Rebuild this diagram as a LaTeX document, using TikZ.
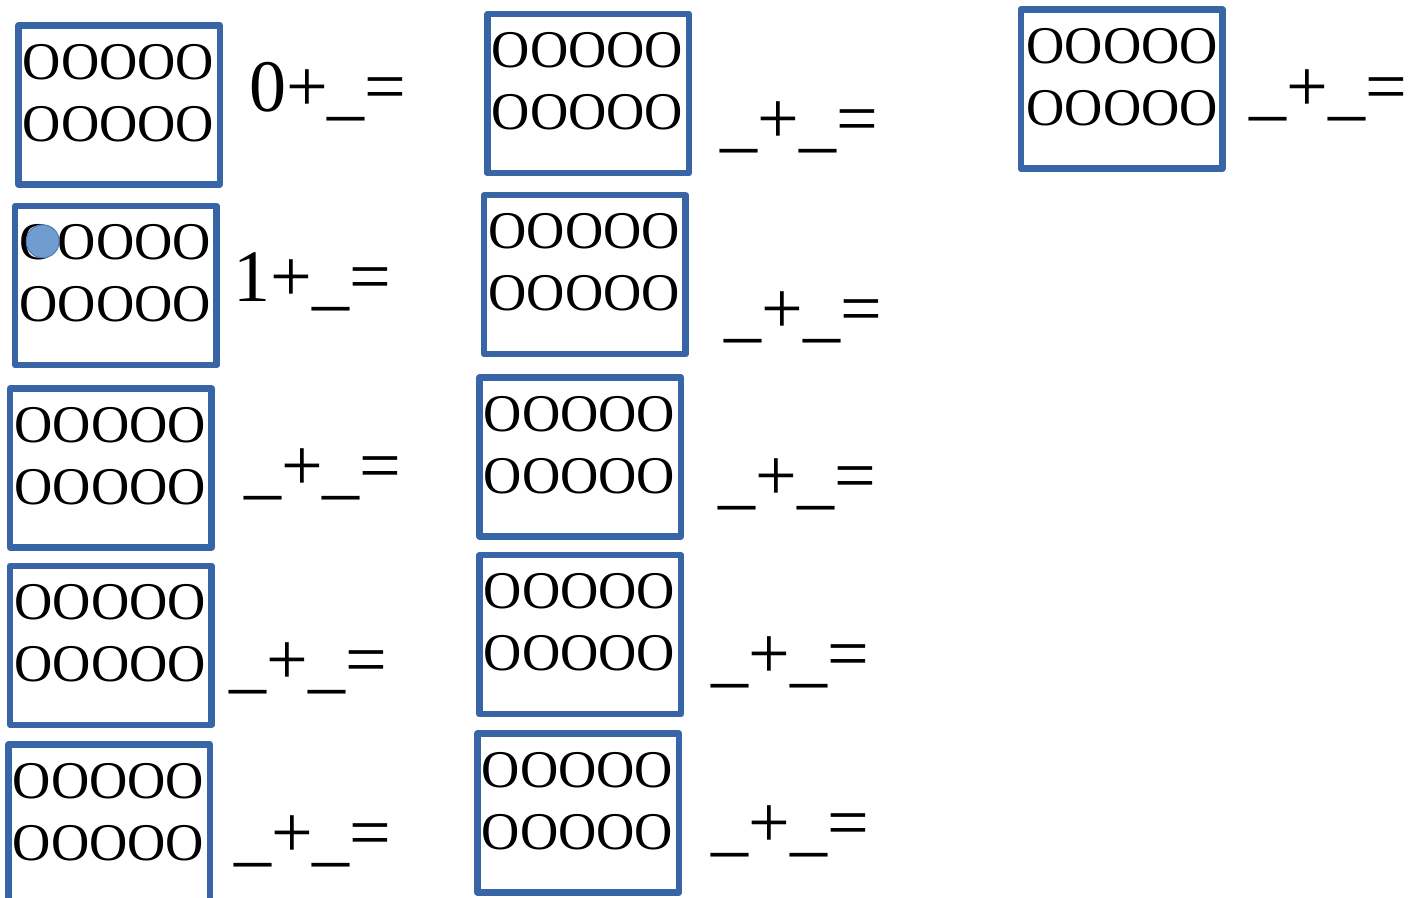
\documentclass[tikz,border=0pt]{standalone}
\usepackage{fontspec}
\setmainfont{Liberation Serif}
\definecolor{boxblue}{RGB}{55,101,165}
\definecolor{dotfill}{RGB}{112,156,208}
\definecolor{dotline}{RGB}{80,125,185}
\newcommand\oorows{\vtop{\baselineskip=62pt\hbox{OOOOO}\hbox{OOOOO}}}
\tikzset{
  boxnode/.style={draw=boxblue, line width=6.5pt, line join=round, rectangle,
    minimum width=201.5pt, minimum height=159pt, inner sep=0pt, outer sep=0pt, anchor=north west},
  dotsnode/.style={anchor=base west, inner sep=0pt, outer sep=0pt, font=\fontsize{53}{62}\selectfont},
  eqnode/.style={anchor=base east, inner sep=0pt, outer sep=0pt, font=\fontsize{74}{80}\selectfont},
  counter/.style={circle, fill=dotfill, draw=dotline, line width=1pt, minimum size=33pt, inner sep=0pt}
}
\begin{document}
\begin{tikzpicture}[x=1pt,y=-1pt]
\useasboundingbox (0,0) rectangle (1421,897);
% boxes
\node[boxnode] (b1) at (18.5,25.5) {};
\node[boxnode] (b2) at (15.2,206.2) {};
\node[boxnode] (b3) at (10.2,388.5) {};
\node[boxnode] (b4) at (10.2,565.8) {};
\node[boxnode] (b5) at (8.5,744.5) {};
\node[boxnode] (b6) at (487.5,14.2) {};
\node[boxnode] (b7) at (484.2,195.2) {};
\node[boxnode] (b8) at (479.5,377.5) {};
\node[boxnode] (b9) at (479.5,555.2) {};
\node[boxnode] (b10) at (477.5,733.5) {};
\node[boxnode] (b11) at (1020.8,9.5) {};
% rows of O
\foreach \b in {b1,b2,b3,b4,b5,b6,b7,b8,b9,b10}{
  \node[dotsnode] (t\b) at ([shift={(4.3pt,-53.5pt)}]\b.north west) {\oorows};
}
\node[dotsnode] (tb11) at ([shift={(5.7pt,-53.5pt)}]b11.north west) {\oorows};
% counter
\node[counter] (dot) at (42.7,241.3) {};
% equations
\node[eqnode] (e1) at (406.5,111.5) {0+\_=};
\node[eqnode] (e2) at (390.8,301.2) {1+\_=};
\node[eqnode] (e3) at (401.5,490.5) {\_+\_=};
\node[eqnode] (e4) at (386.8,684.5) {\_+\_=};
\node[eqnode] (e5) at (391.5,857.8) {\_+\_=};
\node[eqnode] (e6) at (878.2,143.8) {\_+\_=};
\node[eqnode] (e7) at (881.8,333.8) {\_+\_=};
\node[eqnode] (e8) at (875.8,500.2) {\_+\_=};
\node[eqnode] (e9) at (869.2,678.8) {\_+\_=};
\node[eqnode] (e10) at (869.2,847.8) {\_+\_=};
\node[eqnode] (e11) at (1406.8,111.2) {\_+\_=};
\end{tikzpicture}
\end{document}
